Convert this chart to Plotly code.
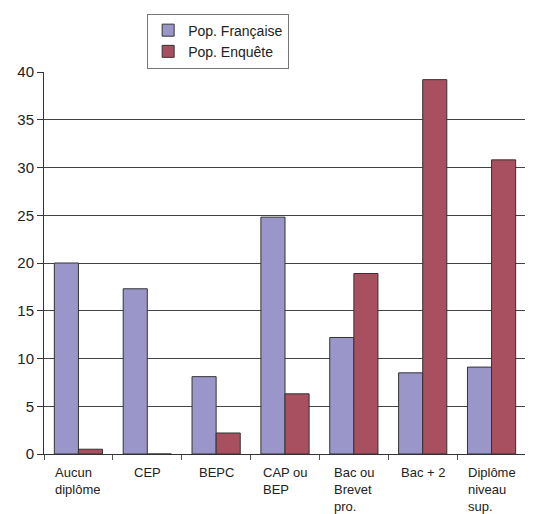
import plotly.graph_objects as go

categories = ["Aucun<br>diplôme", "CEP", "BEPC", "CAP ou<br>BEP", "Bac ou<br>Brevet<br>pro.", "Bac + 2", "Diplôme<br>niveau<br>sup."]
pop_francaise = [20.0, 17.3, 8.1, 24.8, 12.2, 8.5, 9.1]
pop_enquete = [0.5, 0.0, 2.2, 6.3, 18.9, 39.2, 30.8]
y_ticks = [0, 5, 10, 15, 20, 25, 30, 35, 40]

keys = list(range(len(categories)))

fig = go.Figure()
fig.add_trace(go.Bar(x=keys, y=pop_francaise, name="Pop. Française",
                     marker=dict(color="#9b96c9", line=dict(color="#333333", width=1))))
fig.add_trace(go.Bar(x=keys, y=pop_enquete, name="Pop. Enquête",
                     marker=dict(color="#a8505f", line=dict(color="#333333", width=1))))

for k, lab in zip(keys, categories):
    fig.add_annotation(x=k, y=0, xref="x", yref="y", text=lab, showarrow=False,
                       xanchor="center", yanchor="top", align="left", yshift=-9,
                       font=dict(family="Liberation Sans, Arial, sans-serif", size=13, color="#222222"))

fig.update_layout(
    width=525, height=506,
    margin=dict(l=36, r=7, t=63, b=60),
    paper_bgcolor="white", plot_bgcolor="white",
    barmode="group", bargap=0.3, bargroupgap=0,
    font=dict(family="Liberation Sans, Arial, sans-serif", size=14, color="#222222"),
    showlegend=True,
    legend=dict(x=0.214, y=1.15, xanchor="left", yanchor="top",
                bordercolor="#777777", borderwidth=1, bgcolor="white",
                font=dict(size=14, color="#222222"), tracegroupgap=0),
    xaxis=dict(range=[-0.5, len(categories) - 0.5], showticklabels=False,
               ticks="outside", ticklen=5, tickcolor="#555555",
               tickvals=[k - 0.5 for k in keys] + [len(categories) - 0.5],
               showline=True, linecolor="#333333", linewidth=1, showgrid=False,
               zeroline=False),
    yaxis=dict(range=[0, 40], tickvals=y_ticks, ticks="outside", ticklen=6,
               tickcolor="#333333", showline=True, linecolor="#333333", linewidth=1,
               showgrid=True, gridcolor="#444444", gridwidth=1, zeroline=False,
               tickfont=dict(size=15, color="#222222")),
)

fig.write_html("out.html")
